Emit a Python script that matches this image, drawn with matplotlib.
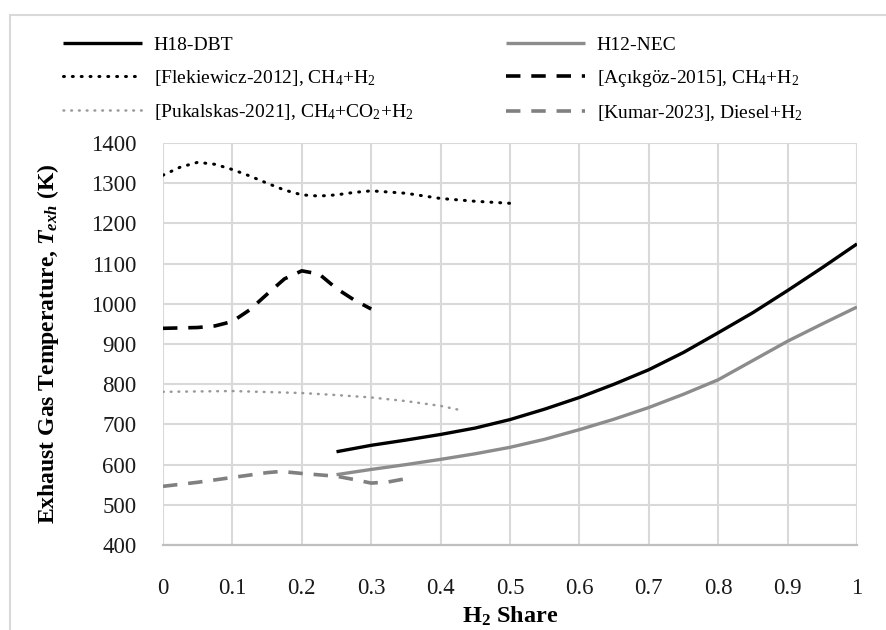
import matplotlib
matplotlib.use("Agg")
import matplotlib.pyplot as plt
from matplotlib.patches import Rectangle

plt.rcParams['font.family'] = ['Liberation Serif', 'DejaVu Serif']
plt.rcParams['mathtext.fontset'] = 'custom'
plt.rcParams['mathtext.rm'] = 'Liberation Serif'
plt.rcParams['mathtext.it'] = 'Liberation Serif:italic:bold'
plt.rcParams['mathtext.bf'] = 'Liberation Serif:bold'

# ---- data ----
h18_x = [0.25, 0.3, 0.35, 0.4, 0.45, 0.5, 0.55, 0.6, 0.65, 0.7, 0.75, 0.8, 0.85, 0.9, 0.95, 1.0]
h18_y = [632, 648, 661, 675, 691, 712, 738, 767, 800, 836, 879, 928, 978, 1033, 1090, 1149]

h12_x = [0.25, 0.3, 0.35, 0.4, 0.45, 0.5, 0.55, 0.6, 0.65, 0.7, 0.75, 0.8, 0.85, 0.9, 0.95, 1.0]
h12_y = [575, 588, 600, 613, 627, 643, 663, 687, 713, 742, 775, 811, 859, 907, 950, 992]

flek_x = [0, 0.025, 0.05, 0.075, 0.1, 0.125, 0.15, 0.175, 0.2, 0.225, 0.25, 0.275, 0.3, 0.35, 0.4, 0.45, 0.5]
flek_y = [1320, 1340, 1352, 1347, 1334, 1318, 1300, 1283, 1271, 1268, 1271, 1277, 1281, 1275, 1262, 1255, 1250]

acik_x = [0, 0.05, 0.075, 0.1, 0.125, 0.15, 0.175, 0.2, 0.225, 0.25, 0.275, 0.3]
acik_y = [939, 941, 945, 956, 985, 1024, 1062, 1082, 1074, 1038, 1010, 987]

puk_x = [0, 0.1, 0.2, 0.25, 0.3, 0.35, 0.4, 0.43]
puk_y = [781, 783, 778, 773, 767, 758, 746, 735]

kum_x = [0, 0.05, 0.1, 0.15, 0.17, 0.2, 0.25, 0.275, 0.3, 0.325, 0.35]
kum_y = [546, 556, 568, 580, 583, 578, 571, 563, 554, 557, 565]

x_ticks = [0, 0.1, 0.2, 0.3, 0.4, 0.5, 0.6, 0.7, 0.8, 0.9, 1]
x_tick_labels = ['0', '0.1', '0.2', '0.3', '0.4', '0.5', '0.6', '0.7', '0.8', '0.9', '1']
y_ticks = [400, 500, 600, 700, 800, 900, 1000, 1100, 1200, 1300, 1400]

labels = ['H18-DBT', 'H12-NEC',
          r'[Flekiewicz-2012], CH$_4$+H$_2$', r'[Açıkgöz-2015], CH$_4$+H$_2$',
          r'[Pukalskas-2021], CH$_4$+CO$_2$+H$_2$', r'[Kumar-2023], Diesel+H$_2$']

W, H = 886, 630
fig = plt.figure(figsize=(W / 100, H / 100), dpi=100)
ax = fig.add_axes([163 / W, 1 - 545 / H, (857 - 163) / W, (545 - 143) / H])

lw = 2.4
l_h18, = ax.plot(h18_x, h18_y, color='black', lw=lw, solid_capstyle='butt')
l_h12, = ax.plot(h12_x, h12_y, color='#8c8c8c', lw=lw, solid_capstyle='butt')
l_flek, = ax.plot(flek_x, flek_y, color='black', lw=2.2, linestyle=(0, (0.3, 2.6)),
                  dash_capstyle='round')
l_acik, = ax.plot(acik_x, acik_y, color='black', lw=2.6, linestyle=(0, (4, 3)))
l_puk, = ax.plot(puk_x, puk_y, color='#999999', lw=1.8, linestyle=(0, (0.3, 2.8)),
                 dash_capstyle='round')
l_kum, = ax.plot(kum_x, kum_y, color='#808080', lw=2.6, linestyle=(0, (4, 3)))

ax.set_xlim(0, 1)
ax.set_ylim(400, 1400)
ax.set_xticks(x_ticks)
ax.set_xticklabels(x_tick_labels)
ax.set_yticks(y_ticks)
ax.grid(True, color='#d9d9d9', lw=1.5)
ax.set_axisbelow(True)
for s in ['top', 'right', 'left']:
    ax.spines[s].set_visible(False)
ax.spines['bottom'].set_color('#bfbfbf')
ax.spines['bottom'].set_linewidth(1.6)
ax.tick_params(axis='both', length=0, labelsize=16.5, colors='#1a1a1a')
ax.tick_params(axis='x', pad=24)
ax.tick_params(axis='y', pad=19)

ax.set_xlabel(r'H$_\mathbf{2}$ Share', fontsize=17.5, fontweight='bold', labelpad=4)
fig.text(48 / W, 1 - 344 / H, r'Exhaust Gas Temperature, $T_{exh}$ (K)', fontsize=17,
         fontweight='bold', rotation=90, ha='center', va='center')

leg_kw = dict(loc='upper left', frameon=False, fontsize=14, handlelength=4.06,
              handletextpad=0.6, labelspacing=0.73, borderpad=0, borderaxespad=0)
leg1 = fig.legend([l_h18, l_flek, l_puk], [labels[0], labels[2], labels[4]],
                  bbox_to_anchor=(63 / W, 1 - 36 / H), **leg_kw)
leg2 = fig.legend([l_h12, l_acik, l_kum], [labels[1], labels[3], labels[5]],
                  bbox_to_anchor=(506 / W, 1 - 36 / H), **leg_kw)

fig.patches.append(Rectangle((10 / W, -0.1), 1.2, 1.1 - 15 / H, transform=fig.transFigure,
                             fill=False, edgecolor='#d9d9d9', lw=1.5))

fig.savefig('out.png', dpi=100)
